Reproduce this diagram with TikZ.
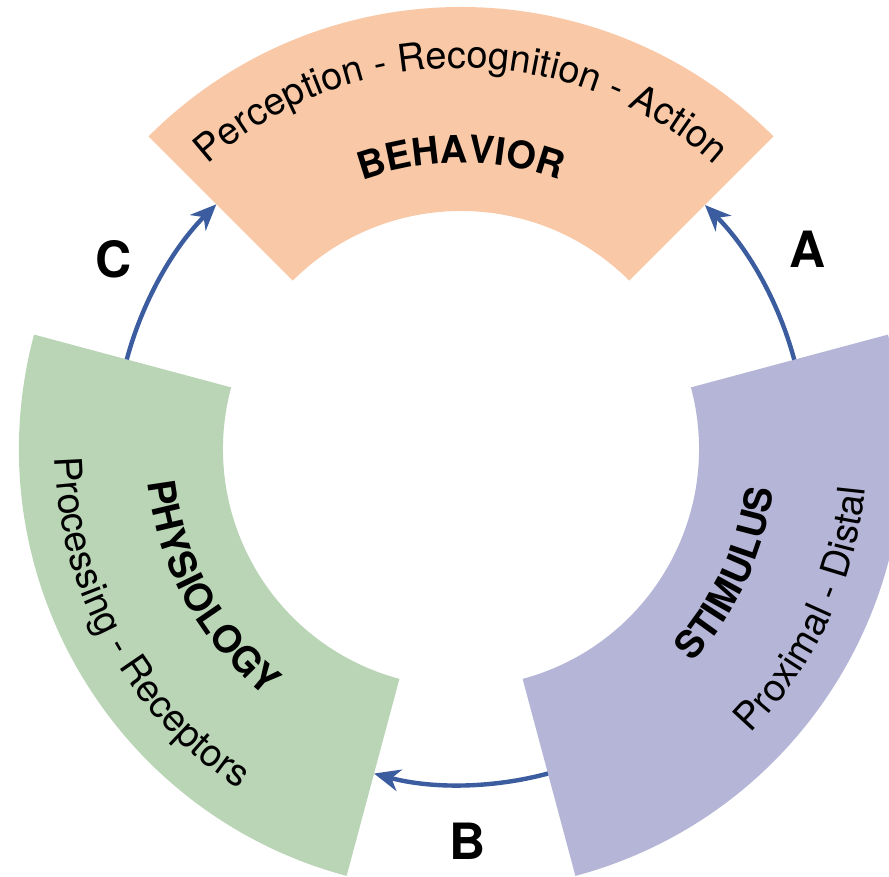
\documentclass[tikz,border=0pt]{standalone}
\usepackage{fontspec}
\setmainfont{TeX Gyre Heros}
\usetikzlibrary{decorations.text,arrows.meta}
\definecolor{behcol}{RGB}{249,200,166}
\definecolor{phycol}{RGB}{185,213,182}
\definecolor{stimcol}{RGB}{181,182,215}
\definecolor{arrcol}{RGB}{59,92,158}
\begin{document}
\begin{tikzpicture}[x=1pt,y=1pt,
  flow/.style={draw=arrcol, line width=4.4pt, -{Stealth[length=26pt,width=22pt,inset=8pt]}},
  lab/.style={inner sep=0pt, font=\fontsize{50pt}{54pt}\selectfont\bfseries},
  curvetext/.style={decorate, decoration={text along path, text align=center, text={#1}}}
]
\useasboundingbox (0,0) rectangle (889,877);
\coordinate (c) at (461,428);

% segments
\fill[behcol] ([shift={(45:238pt)}]c) arc[start angle=45,end angle=135,radius=238pt]
  -- ([shift={(135:442pt)}]c) arc[start angle=135,end angle=45,radius=442pt] -- cycle;
\fill[phycol] ([shift={(165:238pt)}]c) arc[start angle=165,end angle=255,radius=238pt]
  -- ([shift={(255:442pt)}]c) arc[start angle=255,end angle=165,radius=442pt] -- cycle;
\fill[stimcol] ([shift={(285:238pt)}]c) arc[start angle=285,end angle=375,radius=238pt]
  -- ([shift={(375:442pt)}]c) arc[start angle=375,end angle=285,radius=442pt] -- cycle;

% curved texts
\path[curvetext={|\fontsize{38pt}{40pt}\selectfont|Perception - Recognition - Action}]
  ([shift={(135:381pt)}]c) arc[start angle=135,end angle=45,radius=381pt];
\path[curvetext={|\fontsize{38pt}{40pt}\selectfont\bfseries|BEHAVIOR}]
  ([shift={(135:286pt)}]c) arc[start angle=135,end angle=45,radius=286pt];
\path[curvetext={|\fontsize{38pt}{40pt}\selectfont|Processing - Receptors}]
  ([shift={(164:406pt)}]c) arc[start angle=164,end angle=254,radius=406pt];
\path[curvetext={|\fontsize{38pt}{40pt}\selectfont\bfseries|PHYSIOLOGY}]
  ([shift={(164:315pt)}]c) arc[start angle=164,end angle=254,radius=315pt];
\path[curvetext={|\fontsize{38pt}{40pt}\selectfont|Proximal - Distal}]
  ([shift={(290:406pt)}]c) arc[start angle=290,end angle=380,radius=406pt];
\path[curvetext={|\fontsize{38pt}{40pt}\selectfont\bfseries|STIMULUS}]
  ([shift={(290:315pt)}]c) arc[start angle=290,end angle=380,radius=315pt];

% arrows
\coordinate (Astart) at ([shift={(15:345pt)}]c);
\coordinate (Cstart) at ([shift={(165:346pt)}]c);
\coordinate (Bstart) at ([shift={(-75:336pt)}]c);
\draw[flow] (Astart) arc[start angle=15,end angle=45,radius=345pt];
\draw[flow] (Cstart) arc[start angle=165,end angle=135,radius=346pt];
\draw[flow] (Bstart) arc[start angle=-75,end angle=-105,radius=336pt];

% labels
\node[lab] (labA) at (808,628) {A};
\node[lab] (labB) at (468,36) {B};
\node[lab] (labC) at (114,618) {C};
\end{tikzpicture}
\end{document}
